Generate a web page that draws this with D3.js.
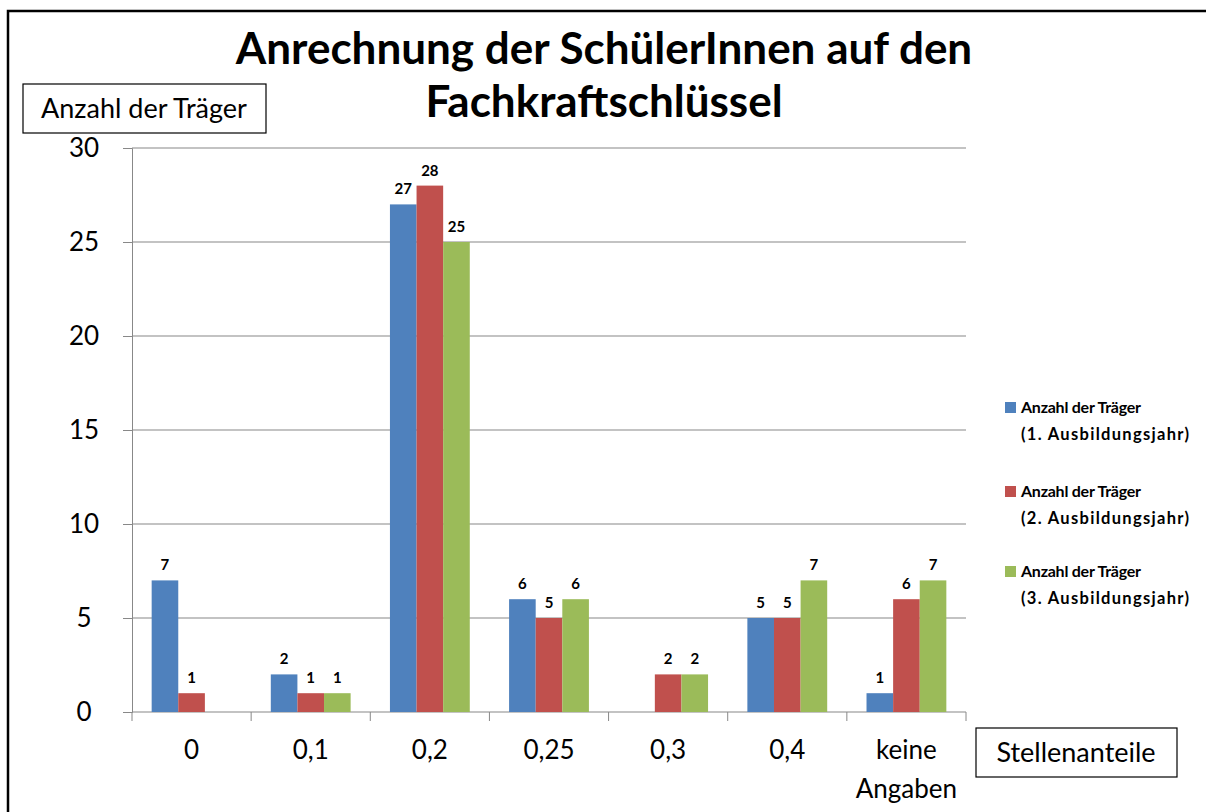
<!DOCTYPE html>
<html>
<head>
<meta charset="utf-8">
<script src="https://cdn.jsdelivr.net/npm/d3@7"></script>
<style>
  body { margin: 0; background: #fff; }
  text { font-family: Lato, "Open Sans", sans-serif; }
</style>
</head>
<body>
<div id="d3Container"></div>
<script>
const categories = ['0', '0,1', '0,2', '0,25', '0,3', '0,4', 'keine Angaben'];
const seriesNames = [
  ['Anzahl der Träger', '(1. Ausbildungsjahr)'],
  ['Anzahl der Träger', '(2. Ausbildungsjahr)'],
  ['Anzahl der Träger', '(3. Ausbildungsjahr)']
];
const year1 = [7, 2, 27, 6, null, 5, 1];
const year2 = [1, 1, 28, 5, 2, 5, 6];
const year3 = [null, 1, 25, 6, 2, 7, 7];
const yTicks = [0, 5, 10, 15, 20, 25, 30];
const colors = ['#4F81BD', '#C0504D', '#9BBB59'];

const viz = () => {
  const w = 1206;
  const h = 812;
  const svg = d3.select('#d3Container').append('svg')
    .attr('width', w)
    .attr('height', h);

  // outer frame (runs off the right and bottom edges)
  svg.append('rect').attr('x', 8).attr('y', 11).attr('width', 1220).attr('height', 830)
    .attr('fill', 'none').attr('stroke', '#000').attr('stroke-width', 2.5);

  svg.append('text').attr('x', 604).attr('y', 64).attr('text-anchor', 'middle')
    .style('font-size', '44px').style('font-weight', 'bold')
    .text('Anrechnung der SchülerInnen auf den');
  svg.append('text').attr('x', 604).attr('y', 117).attr('text-anchor', 'middle')
    .style('font-size', '44px').style('font-weight', 'bold')
    .text('Fachkraftschlüssel');

  const [x0, y0, w0, h0] = [132, 148, 834, 564];
  const yScale = d3.scaleLinear().domain([0, 30]).range([h0, 0]);
  const xScale = d3.scaleBand().domain(categories).range([0, w0]).paddingInner(0.33).paddingOuter(0.165);
  const sub = d3.scaleBand().domain([0, 1, 2]).range([0, xScale.bandwidth()]);

  const g = svg.append('g').attr('transform', `translate(${x0}, ${y0})`);

  // gridlines
  g.selectAll('.grid').data(yTicks.filter(d => d > 0)).enter().append('line')
    .attr('x1', 0).attr('x2', w0)
    .attr('y1', d => yScale(d)).attr('y2', d => yScale(d))
    .attr('stroke', '#888').attr('stroke-width', 1.2);

  // y axis
  const yAxis = d3.axisLeft(yScale).tickValues(yTicks).tickSize(9).tickPadding(30);
  const ya = g.append('g').call(yAxis);
  ya.select('.domain').attr('stroke', '#888');
  ya.selectAll('.tick line').attr('stroke', '#888');
  ya.selectAll('.tick text').style('font-size', '26px').attr('fill', '#000').attr('text-anchor', 'middle').attr('x', -48);

  // x axis line and ticks at category boundaries
  g.append('line').attr('x1', 0).attr('x2', w0).attr('y1', h0).attr('y2', h0)
    .attr('stroke', '#888').attr('stroke-width', 1.2);
  const step = xScale.step();
  const bounds = categories.map(c => xScale(c) - step * 0.165).concat([w0]);
  g.selectAll('.xtick').data(bounds).enter().append('line')
    .attr('x1', d => d).attr('x2', d => d).attr('y1', h0).attr('y2', h0 + 9)
    .attr('stroke', '#888');

  categories.forEach(c => {
    const lines = c.split(' ');
    const t = g.append('text').attr('x', xScale(c) + xScale.bandwidth() / 2).attr('y', h0 + 47)
      .attr('text-anchor', 'middle').style('font-size', '26px');
    lines.forEach((l, i) => t.append('tspan').attr('x', xScale(c) + xScale.bandwidth() / 2)
      .attr('dy', i === 0 ? 0 : 39).text(l));
  });

  // bars
  const series = [year1, year2, year3];
  series.forEach((vals, s) => {
    const data = categories.map((c, i) => ({c: c, v: vals[i]})).filter(d => d.v !== null);
    g.selectAll('.bar' + s).data(data).enter().append('rect')
      .attr('x', d => xScale(d.c) + sub(s))
      .attr('y', d => yScale(d.v))
      .attr('width', sub.bandwidth())
      .attr('height', d => h0 - yScale(d.v))
      .attr('fill', colors[s]);
    g.selectAll('.lab' + s).data(data).enter().append('text')
      .attr('x', d => xScale(d.c) + sub(s) + sub.bandwidth() / 2)
      .attr('y', d => yScale(d.v) - 10)
      .attr('text-anchor', 'middle')
      .style('font-size', '15px').style('font-weight', 'bold')
      .text(d => d.v);
  });

  // axis title boxes
  svg.append('rect').attr('x', 23).attr('y', 84).attr('width', 243).attr('height', 49)
    .attr('fill', '#fff').attr('stroke', '#000').attr('stroke-width', 1.2);
  svg.append('text').attr('x', 144).attr('y', 118).attr('text-anchor', 'middle')
    .style('font-size', '27px').text('Anzahl der Träger');
  svg.append('rect').attr('x', 976).attr('y', 728).attr('width', 201).attr('height', 49)
    .attr('fill', '#fff').attr('stroke', '#000').attr('stroke-width', 1.2);
  svg.append('text').attr('x', 1076).attr('y', 762).attr('text-anchor', 'middle')
    .style('font-size', '27px').text('Stellenanteile');

  // legend
  const legendY = [413, 497, 577];
  seriesNames.forEach((n, i) => {
    svg.append('rect').attr('x', 1005).attr('y', legendY[i] - 11).attr('width', 11).attr('height', 11)
      .attr('fill', colors[i]);
    svg.append('text').attr('x', 1021).attr('y', legendY[i])
      .attr('textLength', 120).attr('lengthAdjust', 'spacing')
      .style('font-size', '16px').style('font-weight', 'bold').text(n[0]);
    svg.append('text').attr('x', 1021).attr('y', legendY[i] + 27)
      .attr('textLength', 168).attr('lengthAdjust', 'spacing')
      .style('font-size', '16.5px').style('font-weight', 'bold').text(n[1]);
  });
};

viz();
</script>
</body>
</html>
